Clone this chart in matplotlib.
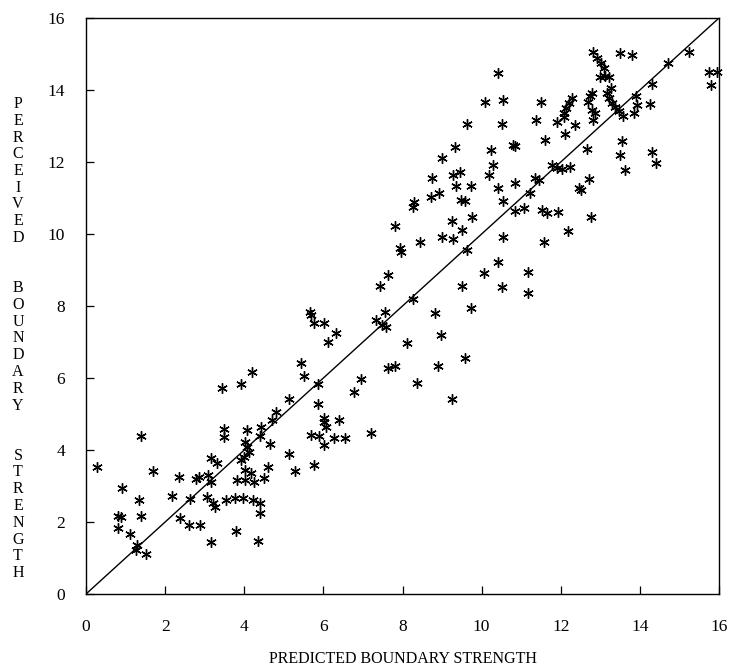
import matplotlib
matplotlib.use("Agg")
import matplotlib.pyplot as plt

# Predicted (x) and perceived (y) boundary strength
predicted = [
    0.29, 1.39, 0.91, 1.69, 0.82, 0.88, 0.82, 1.10, 1.33, 1.39, 1.29, 1.27, 1.52, 2.34, 2.17,
    2.37, 2.60, 2.88, 2.62, 2.77, 2.85, 3.08, 3.15, 3.15, 3.30, 3.49, 3.49, 3.06, 3.22, 3.27,
    3.16, 3.55, 3.76, 3.97, 3.78, 3.82, 4.02, 3.91, 3.99, 4.01, 4.01, 4.08,
    5.77, 6.01, 6.32, 6.11, 5.43, 5.50, 4.20, 3.91, 3.44, 5.12, 5.87, 6.95, 6.78, 5.87, 4.80,
    4.71, 6.01, 6.02, 6.07, 6.40, 7.21, 5.68, 5.90, 6.01, 6.28, 6.55, 4.42, 4.40, 4.08, 4.12,
    4.64, 5.13, 4.60, 4.16, 4.25, 4.50, 5.29, 5.77,
    4.23, 4.41, 4.40, 4.35,
    7.97, 7.63, 7.42, 9.50, 8.27, 5.67, 5.69, 7.55, 7.34, 7.48, 7.59, 8.83, 8.97, 8.11, 7.63,
    7.82, 8.90, 8.37, 9.26,
    9.58,
    10.30, 10.19, 8.75, 9.28, 9.45, 9.34, 9.73, 10.41, 10.85, 11.35, 11.44, 10.55, 8.29, 8.27,
    8.71, 8.92, 9.49, 9.58, 11.23, 10.85, 11.08, 11.52, 11.65, 7.80, 9.26, 9.76, 9.51, 9.00,
    9.28, 8.45, 7.93, 10.55, 11.57, 9.62, 10.42, 10.07, 11.18, 9.72, 10.51, 11.16,
    9.01, 9.32, 9.62,
    10.41, 13.00, 13.13, 13.21, 10.08, 10.55, 11.51, 12.28, 12.22, 12.13, 12.07, 12.79, 12.75,
    12.69, 13.17, 13.26, 13.21, 13.30, 13.38, 13.47, 13.57, 13.89, 13.93, 13.85, 12.79, 12.86,
    12.81, 11.90, 12.07, 12.37, 11.37, 10.52, 11.61, 12.10, 10.80, 10.85, 10.24, 12.67, 13.55,
    13.51, 13.62, 11.78, 11.90, 12.03, 12.24, 12.71, 12.45, 12.50, 11.93, 12.77, 12.18,
    12.81, 12.92, 13.03, 13.09, 13.51, 13.81, 15.23, 14.70, 15.75, 15.96, 15.80, 14.30, 14.25,
    14.31, 14.42,
]
perceived = [
    3.54, 4.40, 2.95, 3.42, 2.17, 2.13, 1.82, 1.67, 2.61, 2.17, 1.36, 1.22, 1.11, 3.24, 2.72,
    2.10, 1.92, 1.92, 2.63, 3.19, 3.24, 3.31, 3.12, 3.77, 3.63, 4.57, 4.37, 2.70, 2.52, 2.43,
    1.45, 2.61, 2.66, 2.68, 1.76, 3.17, 3.17, 3.72, 3.81, 4.23, 3.45, 4.56,
    7.54, 7.54, 7.26, 7.01, 6.43, 6.06, 6.18, 5.83, 5.71, 5.42, 5.83, 5.97, 5.62, 5.28, 5.06,
    4.83, 4.88, 4.79, 4.65, 4.83, 4.46, 4.42, 4.39, 4.14, 4.32, 4.32, 4.63, 4.39, 4.09, 3.95,
    4.17, 3.89, 3.54, 3.37, 3.12, 3.21, 3.43, 3.58,
    2.61, 2.52, 2.24, 1.48,
    9.51, 8.86, 8.56, 8.56, 8.19, 7.84, 7.75, 7.84, 7.61, 7.47, 7.41, 7.80, 7.20, 6.96, 6.27,
    6.32, 6.32, 5.85, 5.41,
    6.55,
    11.92, 11.64, 11.55, 11.64, 11.73, 11.32, 11.32, 11.27, 11.41, 11.55, 11.50, 10.93, 10.90,
    10.76, 11.04, 11.13, 10.95, 10.93, 11.13, 10.65, 10.71, 10.67, 10.59, 10.22, 10.37, 10.46,
    10.11, 9.93, 9.86, 9.79, 9.60, 9.91, 9.79, 9.56, 9.23, 8.93, 8.95, 7.94, 8.52, 8.35,
    12.10, 12.43, 13.06,
    14.48, 14.37, 14.39, 14.37, 13.68, 13.72, 13.68, 13.77, 13.63, 13.49, 13.37, 13.91, 13.82,
    13.68, 13.91, 14.05, 13.77, 13.63, 13.52, 13.43, 13.28, 13.83, 13.58, 13.35, 13.45, 13.37,
    13.17, 13.12, 13.24, 13.03, 13.17, 13.06, 12.61, 12.78, 12.47, 12.45, 12.32, 12.36, 12.57,
    12.20, 11.78, 11.92, 11.83, 11.80, 11.87, 11.52, 11.27, 11.21, 10.62, 10.48, 10.07,
    15.06, 14.88, 14.74, 14.60, 15.04, 14.97, 15.06, 14.76, 14.51, 14.51, 14.14, 14.17, 13.61,
    12.29, 11.96,
]
ticks = [0, 2, 4, 6, 8, 10, 12, 14, 16]
x_title = "PREDICTED BOUNDARY STRENGTH"
y_words = ["PERCEIVED", "BOUNDARY", "STRENGTH"]

serif = ["Liberation Serif", "DejaVu Serif"]
plt.rcParams["font.family"] = serif

W, H = 732, 670
fig = plt.figure(figsize=(W / 100, H / 100), dpi=100)
left, right, top, bottom = 86, 719, 18, 594
ax = fig.add_axes([left / W, 1 - bottom / H, (right - left) / W, (bottom - top) / H])

ax.plot([0, 16], [0, 16], color="black", lw=1.0)
ax.plot(predicted, perceived, linestyle="none", marker=(6, 2, 0), markersize=7.5,
        markeredgewidth=1.0, color="black", clip_on=False)

ax.set_xlim(0, 16)
ax.set_ylim(0, 16)
ax.set_xticks(ticks)
ax.set_yticks(ticks)
ax.set_xticklabels([str(t) for t in ticks], fontsize=12.5)
ax.set_yticklabels([str(t) for t in ticks], fontsize=12.5)
ax.tick_params(direction="in", length=6, width=0.9, top=False, right=False)
ax.tick_params(axis="x", pad=18)
ax.tick_params(axis="y", pad=15)
for s in ax.spines.values():
    s.set_linewidth(1.0)
    s.set_color("black")

fig.text(403 / W, 1 - 659 / H, x_title, ha="center", va="center", fontsize=11.5)

# stacked vertical y-axis label
letters = []
for i, w in enumerate(y_words):
    if i > 0:
        letters += [None, None]
    letters += list(w)
y_first, y_last = 104, 573
step = (y_last - y_first) / (len(letters) - 1)
for i, ch in enumerate(letters):
    if ch is None:
        continue
    fig.text(18 / W, 1 - (y_first + i * step) / H, ch, ha="center", va="center",
             fontsize=11.5)

fig.savefig("out.png", dpi=100)
